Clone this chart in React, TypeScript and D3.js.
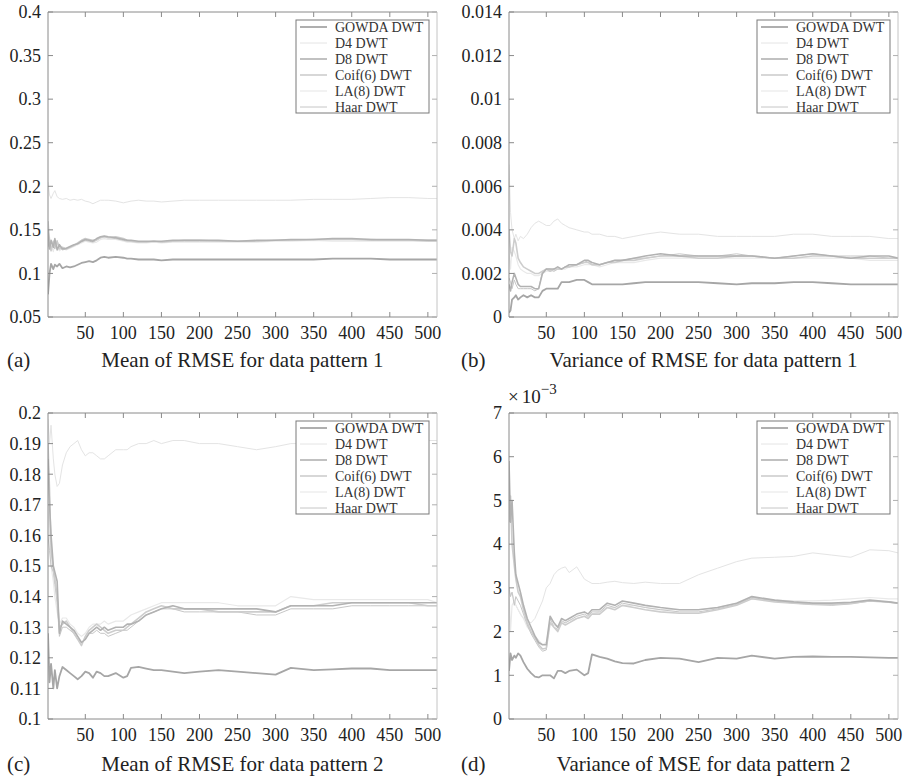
import React from 'react';
import * as d3 from 'd3';

// ---------- data ----------
const X = [1,3,5,8,10,13,16,20,25,30,35,40,45,50,55,60,65,70,75,80,90,100,105,110,120,130,140,150,165,180,200,225,250,275,300,320,350,375,400,425,450,475,500,512];
const X_TICKS = [50,100,150,200,250,300,350,400,450,500];
const SERIES_NAMES = ['GOWDA DWT','D4 DWT','D8 DWT','Coif(6) DWT','LA(8) DWT','Haar DWT'];

// (a) Mean of RMSE for data pattern 1
const A_TICKS = [0.05,0.1,0.15,0.2,0.25,0.3,0.35,0.4];
const A_LABELS = ['0.05','0.1','0.15','0.2','0.25','0.3','0.35','0.4'];
const A_GOWDA = [0.076,0.100,0.111,0.105,0.110,0.108,0.111,0.106,0.108,0.107,0.108,0.110,0.112,0.113,0.114,0.113,0.115,0.118,0.119,0.118,0.119,0.118,0.117,0.117,0.116,0.116,0.116,0.115,0.116,0.116,0.116,0.116,0.116,0.116,0.116,0.116,0.116,0.117,0.117,0.117,0.116,0.116,0.116,0.116];
const A_D4 = [0.205,0.19,0.186,0.192,0.195,0.188,0.186,0.185,0.186,0.184,0.185,0.184,0.185,0.183,0.182,0.180,0.182,0.184,0.184,0.184,0.183,0.181,0.182,0.183,0.184,0.183,0.183,0.182,0.183,0.184,0.184,0.184,0.184,0.184,0.184,0.184,0.185,0.185,0.185,0.186,0.187,0.187,0.186,0.186];
const A_D8 = [0.15,0.128,0.138,0.130,0.140,0.127,0.133,0.128,0.129,0.131,0.133,0.134,0.137,0.139,0.138,0.137,0.140,0.142,0.143,0.142,0.141,0.139,0.138,0.138,0.137,0.137,0.137,0.137,0.138,0.138,0.138,0.138,0.137,0.138,0.138,0.139,0.139,0.140,0.140,0.139,0.139,0.139,0.138,0.138];
const A_COIF = [0.16,0.135,0.126,0.137,0.132,0.136,0.128,0.130,0.128,0.130,0.132,0.135,0.138,0.140,0.139,0.138,0.139,0.141,0.142,0.141,0.142,0.140,0.138,0.137,0.136,0.136,0.137,0.136,0.137,0.138,0.138,0.137,0.137,0.137,0.138,0.138,0.139,0.139,0.139,0.139,0.138,0.138,0.138,0.138];
const A_LA8 = [0.14,0.142,0.132,0.125,0.135,0.130,0.126,0.129,0.127,0.129,0.131,0.133,0.135,0.137,0.136,0.135,0.136,0.139,0.140,0.139,0.139,0.137,0.136,0.136,0.135,0.135,0.136,0.135,0.136,0.136,0.136,0.136,0.136,0.136,0.137,0.137,0.138,0.137,0.137,0.137,0.137,0.137,0.137,0.137];
const A_HAAR = [0.13,0.138,0.129,0.134,0.128,0.138,0.130,0.127,0.128,0.130,0.132,0.134,0.136,0.138,0.137,0.136,0.138,0.141,0.142,0.141,0.140,0.138,0.137,0.137,0.136,0.136,0.137,0.136,0.137,0.137,0.137,0.137,0.137,0.137,0.138,0.138,0.139,0.139,0.139,0.138,0.138,0.138,0.137,0.137];

// (b) Variance of RMSE for data pattern 1
const B_TICKS = [0,0.002,0.004,0.006,0.008,0.01,0.012,0.014];
const B_LABELS = ['0','0.002','0.004','0.006','0.008','0.01','0.012','0.014'];
const B_GOWDA = [0.0002,0.0003,0.0008,0.0009,0.0010,0.0008,0.0009,0.0010,0.0009,0.0010,0.0009,0.0009,0.0012,0.0013,0.0013,0.0013,0.0013,0.0016,0.0016,0.0016,0.0017,0.0017,0.0016,0.0015,0.0015,0.0015,0.0015,0.0015,0.00155,0.0016,0.0016,0.0016,0.0016,0.00155,0.0015,0.00155,0.00155,0.0016,0.0016,0.00155,0.0015,0.0015,0.0015,0.0015];
const B_D4 = [0.0070,0.0048,0.0040,0.0036,0.0038,0.0035,0.0037,0.0036,0.0038,0.0041,0.0043,0.0044,0.0043,0.0042,0.0042,0.0044,0.0045,0.0043,0.0042,0.0041,0.0040,0.0039,0.0039,0.0038,0.0038,0.0037,0.0037,0.0036,0.0037,0.0038,0.0039,0.0038,0.0038,0.0037,0.0037,0.0037,0.0037,0.0038,0.0038,0.0037,0.0037,0.0037,0.0036,0.0036];
const B_D8 = [0.0015,0.0012,0.0016,0.0020,0.0018,0.0015,0.0014,0.0014,0.0014,0.0014,0.0013,0.0013,0.0020,0.0022,0.0022,0.0022,0.0023,0.0022,0.0023,0.0024,0.0024,0.0026,0.0026,0.0025,0.0024,0.0025,0.0026,0.0026,0.0027,0.0028,0.0029,0.0028,0.0028,0.0028,0.0028,0.0028,0.0027,0.0028,0.0029,0.0028,0.0027,0.0028,0.0028,0.0027];
const B_COIF = [0.0040,0.0030,0.0028,0.0036,0.0034,0.0027,0.0025,0.0023,0.0022,0.0021,0.0020,0.0020,0.0021,0.0022,0.0021,0.0022,0.0022,0.0022,0.0023,0.0023,0.0024,0.0025,0.0025,0.0024,0.0024,0.0025,0.0025,0.0026,0.0026,0.0027,0.0028,0.0028,0.0027,0.0027,0.0028,0.0028,0.0027,0.0027,0.0028,0.0028,0.0027,0.0027,0.0027,0.0027];
const B_LA8 = [0.0030,0.0022,0.0032,0.0030,0.0028,0.0024,0.0022,0.0021,0.0020,0.0020,0.0019,0.0019,0.0020,0.0021,0.0021,0.0021,0.0022,0.0022,0.0022,0.0023,0.0023,0.0024,0.0024,0.0024,0.0023,0.0024,0.0025,0.0025,0.0025,0.0026,0.0027,0.0027,0.0027,0.0027,0.0027,0.0027,0.0027,0.0027,0.0027,0.0027,0.0027,0.0026,0.0026,0.0026];
const B_HAAR = [0.0018,0.0016,0.0013,0.0017,0.0015,0.0013,0.0013,0.0013,0.0013,0.0013,0.0012,0.0013,0.0021,0.0022,0.0022,0.0021,0.0022,0.0022,0.0023,0.0023,0.0024,0.0025,0.0026,0.0024,0.0024,0.0025,0.0026,0.0026,0.0027,0.0027,0.0028,0.0029,0.0028,0.0028,0.0029,0.0028,0.0027,0.0028,0.0029,0.0028,0.0028,0.0028,0.0027,0.0027];

// (c) Mean of RMSE for data pattern 2
const C_TICKS = [0.1,0.11,0.12,0.13,0.14,0.15,0.16,0.17,0.18,0.19,0.2];
const C_LABELS = ['0.1','0.11','0.12','0.13','0.14','0.15','0.16','0.17','0.18','0.19','0.2'];
const C_GOWDA = [0.128,0.112,0.118,0.110,0.116,0.110,0.114,0.117,0.116,0.115,0.114,0.113,0.114,0.1155,0.115,0.1135,0.1155,0.115,0.114,0.114,0.115,0.1135,0.114,0.1167,0.117,0.1165,0.116,0.116,0.1155,0.115,0.1155,0.116,0.1155,0.115,0.1145,0.1167,0.116,0.1162,0.1165,0.1165,0.116,0.116,0.116,0.116];
const C_D4 = [0.198,0.190,0.196,0.185,0.180,0.176,0.177,0.183,0.187,0.189,0.190,0.191,0.188,0.186,0.187,0.187,0.186,0.185,0.185,0.186,0.188,0.188,0.188,0.189,0.190,0.190,0.191,0.190,0.191,0.191,0.190,0.190,0.189,0.188,0.189,0.190,0.190,0.190,0.191,0.191,0.191,0.191,0.191,0.191];
const C_D8 = [0.185,0.17,0.16,0.150,0.148,0.145,0.128,0.132,0.131,0.130,0.129,0.127,0.125,0.126,0.128,0.129,0.130,0.129,0.130,0.129,0.130,0.130,0.131,0.131,0.132,0.134,0.135,0.136,0.137,0.136,0.136,0.136,0.136,0.136,0.135,0.137,0.137,0.137,0.138,0.138,0.138,0.138,0.138,0.138];
const C_COIF = [0.19,0.175,0.155,0.149,0.146,0.140,0.130,0.131,0.132,0.130,0.128,0.126,0.124,0.127,0.129,0.130,0.131,0.130,0.129,0.128,0.129,0.129,0.130,0.131,0.133,0.135,0.136,0.137,0.136,0.136,0.136,0.135,0.135,0.135,0.135,0.137,0.137,0.138,0.138,0.138,0.138,0.138,0.137,0.137];
const C_LA8 = [0.17,0.16,0.15,0.145,0.14,0.135,0.131,0.133,0.133,0.131,0.130,0.128,0.127,0.128,0.130,0.131,0.131,0.131,0.132,0.131,0.132,0.132,0.133,0.134,0.135,0.136,0.137,0.138,0.138,0.138,0.138,0.138,0.137,0.137,0.137,0.140,0.139,0.139,0.139,0.139,0.139,0.139,0.139,0.138];
const C_HAAR = [0.16,0.155,0.15,0.148,0.144,0.138,0.127,0.130,0.130,0.129,0.128,0.126,0.125,0.126,0.128,0.128,0.129,0.128,0.128,0.127,0.128,0.129,0.129,0.130,0.132,0.134,0.135,0.136,0.136,0.135,0.135,0.135,0.135,0.134,0.134,0.136,0.136,0.136,0.137,0.137,0.137,0.137,0.137,0.137];

// (d) Variance of MSE for data pattern 2 (values in units of 1e-3)
const D_TICKS = [0,1,2,3,4,5,6,7];
const D_LABELS = ['0','1','2','3','4','5','6','7'];
const D_GOWDA = [1.1,1.5,1.35,1.45,1.4,1.5,1.45,1.3,1.15,1.05,0.97,0.95,1.0,1.0,1.0,0.93,1.1,1.1,1.05,1.1,1.13,1.0,1.05,1.48,1.42,1.38,1.32,1.28,1.27,1.35,1.4,1.38,1.3,1.4,1.38,1.45,1.38,1.42,1.43,1.42,1.42,1.41,1.4,1.4];
const D_D4 = [2.9,2.85,2.9,2.7,2.6,2.5,2.4,2.3,2.25,2.2,2.3,2.5,2.7,3.0,3.1,3.3,3.4,3.45,3.48,3.35,3.48,3.2,3.15,3.1,3.1,3.13,3.15,3.12,3.1,3.13,3.1,3.1,3.3,3.45,3.6,3.68,3.7,3.72,3.8,3.75,3.7,3.87,3.85,3.8];
const D_D8 = [5.9,4.5,5.0,3.8,3.3,3.1,2.9,2.6,2.3,2.1,1.9,1.75,1.7,1.7,2.35,2.2,2.1,2.3,2.25,2.3,2.4,2.45,2.4,2.5,2.5,2.65,2.6,2.7,2.65,2.6,2.55,2.5,2.5,2.55,2.65,2.8,2.72,2.68,2.65,2.65,2.67,2.72,2.68,2.65];
const D_COIF = [4.5,5.1,4.0,3.5,3.2,2.9,2.8,2.5,2.2,2.0,1.85,1.7,1.6,1.62,2.2,2.1,2.0,2.2,2.15,2.2,2.3,2.35,2.3,2.4,2.4,2.55,2.5,2.6,2.55,2.5,2.45,2.42,2.42,2.5,2.6,2.75,2.68,2.65,2.62,2.62,2.65,2.7,2.67,2.65];
const D_LA8 = [2.9,2.0,2.6,2.7,2.6,2.5,2.4,2.3,2.1,2.0,1.9,1.8,1.7,1.75,2.2,2.15,2.1,2.2,2.2,2.25,2.3,2.35,2.35,2.4,2.45,2.55,2.55,2.6,2.6,2.55,2.5,2.5,2.5,2.55,2.65,2.75,2.72,2.7,2.7,2.72,2.75,2.78,2.75,2.75];
const D_HAAR = [3.0,2.8,2.9,2.6,2.8,2.7,2.6,2.4,2.15,1.95,1.8,1.65,1.55,1.58,2.3,2.1,2.05,2.25,2.2,2.25,2.35,2.4,2.35,2.45,2.45,2.6,2.55,2.65,2.6,2.55,2.5,2.45,2.45,2.52,2.62,2.78,2.7,2.65,2.62,2.6,2.63,2.7,2.68,2.65];

const CAPTIONS = ['Mean of RMSE for data pattern 1','Variance of RMSE for data pattern 1','Mean of RMSE for data pattern 2','Variance of MSE for data pattern 2'];
const PANEL_TAGS = ['(a)','(b)','(c)','(d)'];

// ---------- styles / layout ----------
const STYLES = [
  { color: '#a6a6a6', width: 1.8 }, // GOWDA
  { color: '#e4e4e4', width: 1 },   // D4
  { color: '#b2b2b2', width: 1.6 }, // D8
  { color: '#cdcdcd', width: 1.6 }, // Coif
  { color: '#e9e9e9', width: 1.2 }, // LA8
  { color: '#c6c6c6', width: 1 },   // Haar
];
const DRAW_ORDER = [1, 4, 5, 3, 2, 0];
const FONT = '"Liberation Serif", "Times New Roman", serif';
const TEXT_COLOR = '#222';

const PANELS = [
  { left: 48, right: 437, top: 12, bottom: 317, domain: [0.05, 0.4], ticks: A_TICKS, labels: A_LABELS,
    series: [A_GOWDA, A_D4, A_D8, A_COIF, A_LA8, A_HAAR], tagX: 7, capY: 367, exp: false },
  { left: 509, right: 898, top: 12, bottom: 317, domain: [0, 0.014], ticks: B_TICKS, labels: B_LABELS,
    series: [B_GOWDA, B_D4, B_D8, B_COIF, B_LA8, B_HAAR], tagX: 461, capY: 367, exp: false },
  { left: 48, right: 437, top: 413, bottom: 719, domain: [0.1, 0.2], ticks: C_TICKS, labels: C_LABELS,
    series: [C_GOWDA, C_D4, C_D8, C_COIF, C_LA8, C_HAAR], tagX: 7, capY: 771, exp: false },
  { left: 509, right: 898, top: 413, bottom: 719, domain: [0, 7], ticks: D_TICKS, labels: D_LABELS,
    series: [D_GOWDA, D_D4, D_D8, D_COIF, D_LA8, D_HAAR], tagX: 461, capY: 771, exp: true },
];

function Panel({ p, idx }: { p: any; idx: number }) {
  const x = d3.scaleLinear().domain([1, 512]).range([p.left, p.right]);
  const y = d3.scaleLinear().domain(p.domain).range([p.bottom, p.top]);
  const line = d3.line<number>().x((_, i) => x(X[i])).y((v) => y(v));
  const clipId = `clip${idx}`;
  const tl = 5;
  const lg = { left: p.right - 141, top: p.top + 8, w: 133, h: 93 };
  const axisColor = '#8a8a8a';
  return (
    <g>
      <defs>
        <clipPath id={clipId}>
          <rect x={p.left} y={p.top} width={p.right - p.left} height={p.bottom - p.top} />
        </clipPath>
      </defs>
      <rect x={p.left} y={p.top} width={p.right - p.left} height={p.bottom - p.top} fill="#fff" />
      <g clipPath={`url(#${clipId})`}>
        {DRAW_ORDER.map((si) => (
          <path key={si} d={line(p.series[si]) || ''} fill="none" stroke={STYLES[si].color}
            strokeWidth={STYLES[si].width} strokeLinejoin="round" />
        ))}
      </g>
      {/* box */}
      <line x1={p.left} x2={p.right} y1={p.top} y2={p.top} stroke={axisColor} />
      <line x1={p.left} x2={p.right} y1={p.bottom} y2={p.bottom} stroke={axisColor} />
      <line x1={p.left} x2={p.left} y1={p.top} y2={p.bottom} stroke={axisColor} />
      <line x1={p.right} x2={p.right} y1={p.top} y2={p.bottom} stroke="#c4c4c4" />
      {/* x ticks */}
      {X_TICKS.map((t) => (
        <g key={'x' + t}>
          <line x1={x(t)} x2={x(t)} y1={p.bottom} y2={p.bottom - tl} stroke={axisColor} />
          <line x1={x(t)} x2={x(t)} y1={p.top} y2={p.top + tl} stroke={axisColor} />
          <text x={x(t)} y={p.bottom + 22} textAnchor="middle" fontSize={18} fontFamily={FONT} fill={TEXT_COLOR}>{t}</text>
        </g>
      ))}
      {/* y ticks */}
      {p.ticks.map((t: number, i: number) => (
        <g key={'y' + i}>
          <line x1={p.left} x2={p.left + tl} y1={y(t)} y2={y(t)} stroke={axisColor} />
          <line x1={p.right} x2={p.right - tl} y1={y(t)} y2={y(t)} stroke="#b0b0b0" />
          <text x={p.left - 7} y={y(t)} dy="0.35em" textAnchor="end" fontSize={18} fontFamily={FONT} fill={TEXT_COLOR}>{p.labels[i]}</text>
        </g>
      ))}
      {p.exp && (
        <text x={p.left - 1} y={p.top - 10} fontSize={19} fontFamily={FONT} fill={TEXT_COLOR}>
          ×<tspan dx={3}>10</tspan><tspan dy={-9} fontSize={15}>−3</tspan>
        </text>
      )}
      {/* legend */}
      <rect x={lg.left} y={lg.top} width={lg.w} height={lg.h} fill="#fff" stroke="#7a7a7a" strokeWidth={1} />
      {SERIES_NAMES.map((name, i) => {
        const cy = lg.top + 7 + i * 16;
        return (
          <g key={name}>
            <line x1={lg.left + 4} x2={lg.left + 31} y1={cy} y2={cy} stroke={STYLES[i].color} strokeWidth={STYLES[i].width} />
            <text x={lg.left + 39} y={cy} dy="0.35em" fontSize={14} fontFamily={FONT} fill="#333">{name}</text>
          </g>
        );
      })}
      {/* caption */}
      <text x={p.tagX} y={p.capY} fontSize={21} fontFamily={FONT} fill={TEXT_COLOR}>{PANEL_TAGS[idx]}</text>
      <text x={(p.left + p.right) / 2} y={p.capY} textAnchor="middle" fontSize={21} fontFamily={FONT} fill={TEXT_COLOR}>{CAPTIONS[idx]}</text>
    </g>
  );
}

export default function App() {
  return (
    <svg width={907} height={779} style={{ position: 'absolute', left: 0, top: 0, background: '#fff' }}>
      <rect x={0} y={0} width={907} height={779} fill="#fff" />
      {PANELS.map((p, i) => <Panel key={i} p={p} idx={i} />)}
    </svg>
  );
}
